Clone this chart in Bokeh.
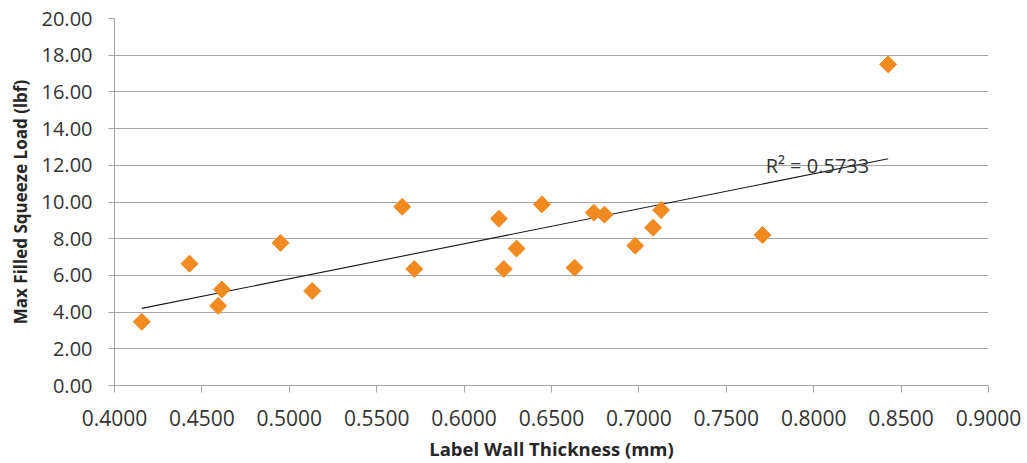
import numpy as np
from bokeh.plotting import figure
from bokeh.models import Label, FixedTicker, Range1d, ColumnDataSource
from bokeh.embed import file_html
from bokeh.resources import INLINE

thickness = [0.4156, 0.4429, 0.4593, 0.4614, 0.4950, 0.5131, 0.5646, 0.5715,
             0.6199, 0.6227, 0.6300, 0.6445, 0.6632, 0.6742, 0.6803, 0.6979,
             0.7081, 0.7127, 0.7707, 0.8426]
load = [3.47, 6.64, 4.34, 5.23, 7.77, 5.15, 9.74, 6.35,
        9.09, 6.35, 7.46, 9.87, 6.42, 9.42, 9.31, 7.62,
        8.60, 9.56, 8.20, 17.50]
x_ticks = [0.40, 0.45, 0.50, 0.55, 0.60, 0.65, 0.70, 0.75, 0.80, 0.85, 0.90]
y_ticks = [0, 2, 4, 6, 8, 10, 12, 14, 16, 18, 20]
r2_label = "R² = 0.5733"

FONT = "Open Sans"
TXT = "#333333"
TITLE = "#262626"
GRID = "#a6a6a6"

p = figure(width=1027, height=463, output_backend="svg", toolbar_location=None,
           x_range=Range1d(0.40, 0.90), y_range=Range1d(0, 20),
           min_border_left=114, min_border_right=39, min_border_top=18, min_border_bottom=77)
p.outline_line_color = None
p.background_fill_color = "white"
p.border_fill_color = "white"

# trend line through the library
slope, intercept = np.polyfit(thickness, load, 1)
xs = np.array([min(thickness), max(thickness)])
p.line(xs, slope * xs + intercept, line_color="#1a1a1a", line_width=1.1)

src = ColumnDataSource(dict(x=thickness, y=load))
p.scatter("x", "y", source=src, marker="square", angle=np.pi / 4, size=12,
          fill_color="#f28a22", line_color="#f28a22")

p.xaxis.ticker = FixedTicker(ticks=x_ticks)
p.yaxis.ticker = FixedTicker(ticks=y_ticks)
p.xaxis.major_label_overrides = {t: f"{t:.4f}" for t in x_ticks}
p.yaxis.major_label_overrides = {t: f"{t:.2f}" for t in y_ticks}
p.xgrid.grid_line_color = None
p.ygrid.grid_line_color = GRID
p.ygrid.grid_line_width = 1

for ax in (p.xaxis, p.yaxis):
    ax.axis_line_color = GRID
    ax.major_tick_line_color = GRID
    ax.minor_tick_line_color = None
    ax.major_tick_in = 0
    ax.major_label_text_font = FONT
    ax.major_label_text_color = TXT
    ax.axis_label_text_font = FONT
    ax.axis_label_text_font_style = "bold"
    ax.axis_label_text_color = TITLE

p.xaxis.major_label_text_font_size = "21px"
p.yaxis.major_label_text_font_size = "20px"
p.xaxis.axis_label_text_font_size = "18.5px"
p.yaxis.axis_label_text_font_size = "17px"
p.xaxis.major_tick_out = 7
p.yaxis.major_tick_out = 6
p.xaxis.major_label_standoff = 17
p.yaxis.major_label_standoff = 16
p.xaxis.axis_label = "Label Wall Thickness (mm)"
p.yaxis.axis_label = "Max Filled Squeeze Load (lbf)"
p.xaxis.axis_label_standoff = 7
p.yaxis.axis_label_standoff = 7

p.add_layout(Label(x=0.7725, y=12.0, text=r2_label, text_font=FONT,
                   text_font_size="20px", text_color=TXT, text_baseline="alphabetic"))

open("out.html", "w").write(file_html(p, INLINE))
